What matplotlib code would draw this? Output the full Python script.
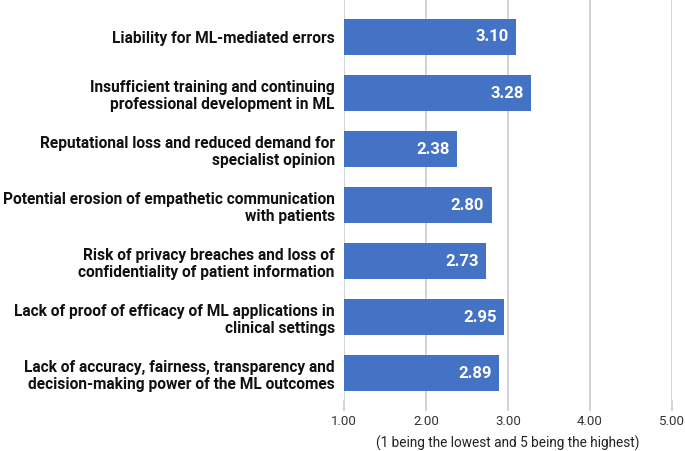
import numpy as np
import matplotlib.pyplot as plt

plt.rcParams['font.family'] = ['Roboto', 'DejaVu Sans']

labels = [
    'Liability for ML-mediated errors',
    'Insufficient training and continuing\nprofessional development in ML',
    'Reputational loss and reduced demand for\nspecialist opinion',
    'Potential erosion of empathetic communication\nwith patients',
    'Risk of privacy breaches and loss of\nconfidentiality of patient information',
    'Lack of proof of efficacy of ML applications in\nclinical settings',
    'Lack of accuracy, fairness, transparency and\ndecision-making power of the ML outcomes',
]
scores = [3.10, 3.28, 2.38, 2.80, 2.73, 2.95, 2.89]
ticks = [1, 2, 3, 4, 5]

fig = plt.figure(figsize=(6.85, 4.51), dpi=100)
ax = fig.add_axes([0.502, 0.113, 0.479, 0.887])

y = np.arange(len(labels))
base = 1.0
ax.barh(y, np.array(scores) - base, left=base, height=0.65, color='#4472C4', zorder=3)

for yi, v in zip(y, scores):
    ax.text(v - 0.09, yi, f'{v:.2f}', ha='right', va='center', color='white',
            fontsize=12, fontweight='bold', zorder=4)

ax.set_xlim(1, 5)
ax.set_ylim(len(labels) - 0.52, -0.66)
ax.set_xticks(ticks)
ax.set_xticklabels([f'{t:.2f}' for t in ticks], fontsize=9.5, color='#333333')
ax.set_yticks(y)
ax.set_yticklabels(labels, fontsize=11.2, fontweight='bold', color='#111111')
ax.tick_params(axis='y', length=0, pad=6.5)
ax.tick_params(axis='x', length=8, color='#cccccc', width=1.2, pad=3)
ax.grid(axis='x', color='#cccccc', linewidth=1.2, zorder=0)
for s in ax.spines.values():
    s.set_visible(False)
ax.set_xlabel('(1 being the lowest and 5 being the highest)', fontsize=9.8,
              color='#222222', labelpad=5)

fig.savefig('out.png', dpi=100)
